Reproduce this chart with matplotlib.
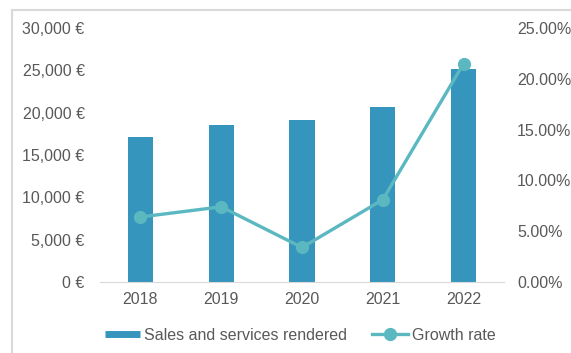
import matplotlib
matplotlib.use("Agg")
import matplotlib.pyplot as plt
from matplotlib.lines import Line2D
from matplotlib.ticker import FuncFormatter

plt.rcParams['font.family'] = ['Liberation Sans', 'DejaVu Sans']

years = ['2018', '2019', '2020', '2021', '2022']
sales = [17150, 18550, 19150, 20700, 25200]
growth = [6.4, 7.4, 3.4, 8.1, 21.5]   # percent

bar_color = '#3595BC'
line_color = '#5BB8C0'
text_color = '#595959'
grid_gray = '#D9D9D9'
fs = 11.5

fig = plt.figure(figsize=(5.71, 3.53), dpi=100)
ax = fig.add_axes([100/571, 1 - 282/353, 404/571, 254/353])

x = range(len(years))
ax.bar(x, sales, width=0.31, color=bar_color, zorder=2)
ax.set_xlim(-0.5, len(years) - 0.5)
ax.set_ylim(0, 30000)
ax.set_yticks(range(0, 30001, 5000))
ax.yaxis.set_major_formatter(FuncFormatter(lambda v, p: f'{int(v):,} €'))
ax.set_xticks(list(x))
ax.set_xticklabels(years)

ax2 = ax.twinx()
ax2.plot(x, growth, color=line_color, lw=2.4, marker='o', ms=8.5,
         zorder=3, solid_capstyle='round')
ax2.set_ylim(0, 25)
ax2.set_yticks(range(0, 26, 5))
ax2.yaxis.set_major_formatter(FuncFormatter(lambda v, p: f'{v:.2f}%'))

for a in (ax, ax2):
    for s in a.spines.values():
        s.set_visible(False)
    a.tick_params(length=0, labelsize=fs, labelcolor=text_color)
ax.spines['bottom'].set_visible(True)
ax.spines['bottom'].set_color(grid_gray)
ax.tick_params(axis='y', pad=11)
ax.tick_params(axis='x', pad=7)
ax2.tick_params(axis='y', pad=9.5)

# outer frame, only left and top edges show
fig.add_artist(Line2D([12/571, 12/571], [0, 1 - 10/353], color=grid_gray, lw=1.5,
                      transform=fig.transFigure))
fig.add_artist(Line2D([12/571, 1], [1 - 10/353, 1 - 10/353], color=grid_gray, lw=1.5,
                      transform=fig.transFigure))

bar_handle = Line2D([], [], color=bar_color, lw=5, solid_capstyle='butt')
line_handle = Line2D([], [], color=line_color, lw=2.4, marker='o', ms=8.5)
leg = fig.legend([bar_handle, line_handle], ['Sales and services rendered', 'Growth rate'],
                 loc='center', bbox_to_anchor=(300/571, 1 - 335.5/353), ncol=2,
                 frameon=False, fontsize=fs, handlelength=2.2, columnspacing=1.6,
                 handletextpad=0.25)
for t in leg.get_texts():
    t.set_color(text_color)

fig.savefig('out.png', dpi=100)
